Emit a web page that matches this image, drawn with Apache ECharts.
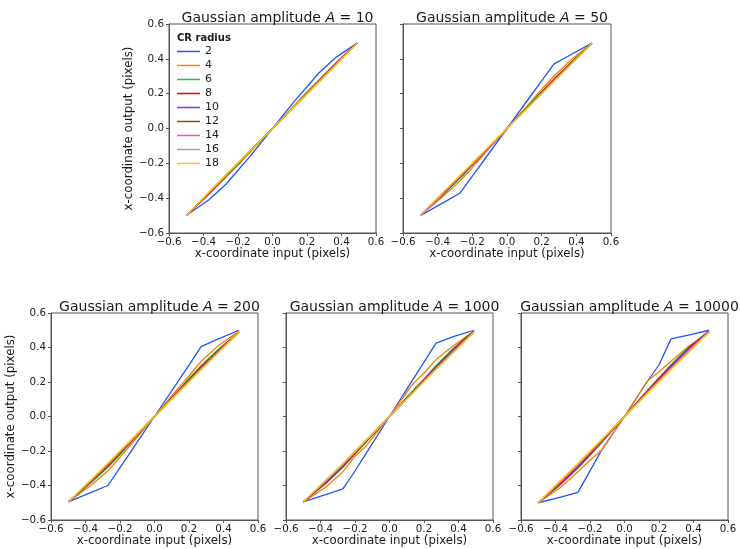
<!DOCTYPE html>
<html>
<head>
<meta charset="utf-8">
<script src="https://cdn.jsdelivr.net/npm/echarts@6/dist/echarts.min.js"></script>
<style>
  html, body { margin: 0; padding: 0; background: #fff; }
  #chart { width: 740px; height: 549px; }
</style>
</head>
<body>
<div id="chart"></div>
<script>
// x-coordinate input (pixels), shared by every curve
var xGrid = [-0.5, -0.37, -0.27, -0.2, -0.13, 0, 0.13, 0.2, 0.27, 0.37, 0.49];

var radii = [2, 4, 6, 8, 10, 12, 14, 16, 18];
var amplitudes = [10, 50, 200, 1000, 10000];

// x-coordinate output, one row per CR radius
var outA10 = [
  [-0.5, -0.41, -0.32, -0.24, -0.16, 0, 0.16, 0.24, 0.32, 0.41, 0.49],
  [-0.5, -0.38, -0.28, -0.21, -0.135, 0, 0.135, 0.21, 0.28, 0.38, 0.49],
  [-0.5, -0.375, -0.275, -0.205, -0.132, 0, 0.132, 0.205, 0.275, 0.375, 0.49],
  [-0.5, -0.373, -0.273, -0.203, -0.131, 0, 0.131, 0.203, 0.273, 0.373, 0.49],
  [-0.5, -0.372, -0.272, -0.202, -0.131, 0, 0.131, 0.202, 0.272, 0.372, 0.49],
  [-0.5, -0.371, -0.271, -0.201, -0.13, 0, 0.13, 0.201, 0.271, 0.371, 0.49],
  [-0.5, -0.37, -0.27, -0.2, -0.13, 0, 0.13, 0.2, 0.27, 0.37, 0.49],
  [-0.5, -0.368, -0.268, -0.199, -0.129, 0, 0.129, 0.199, 0.268, 0.368, 0.49],
  [-0.5, -0.366, -0.266, -0.197, -0.128, 0, 0.128, 0.197, 0.266, 0.366, 0.49]
];
var outA50 = [
  [-0.5, -0.427, -0.37, -0.274, -0.178, 0, 0.178, 0.274, 0.37, 0.425, 0.49],
  [-0.5, -0.39, -0.3, -0.225, -0.145, 0, 0.145, 0.225, 0.3, 0.395, 0.49],
  [-0.5, -0.38, -0.285, -0.212, -0.138, 0, 0.138, 0.212, 0.285, 0.38, 0.49],
  [-0.5, -0.377, -0.28, -0.208, -0.135, 0, 0.135, 0.208, 0.28, 0.377, 0.49],
  [-0.5, -0.375, -0.277, -0.206, -0.134, 0, 0.134, 0.206, 0.277, 0.375, 0.49],
  [-0.5, -0.373, -0.275, -0.204, -0.133, 0, 0.133, 0.204, 0.275, 0.373, 0.49],
  [-0.5, -0.372, -0.273, -0.202, -0.132, 0, 0.132, 0.202, 0.273, 0.372, 0.49],
  [-0.5, -0.37, -0.271, -0.201, -0.131, 0, 0.131, 0.201, 0.271, 0.37, 0.49],
  [-0.5, -0.368, -0.268, -0.199, -0.129, 0, 0.129, 0.199, 0.268, 0.368, 0.49]
];
var outA200 = [
  [-0.495, -0.441, -0.4, -0.296, -0.193, 0, 0.194, 0.298, 0.405, 0.45, 0.5],
  [-0.495, -0.4, -0.315, -0.235, -0.155, 0, 0.155, 0.235, 0.32, 0.41, 0.495],
  [-0.495, -0.385, -0.295, -0.22, -0.143, 0, 0.143, 0.22, 0.295, 0.39, 0.49],
  [-0.495, -0.38, -0.288, -0.214, -0.139, 0, 0.139, 0.214, 0.288, 0.383, 0.49],
  [-0.495, -0.377, -0.284, -0.21, -0.137, 0, 0.137, 0.21, 0.284, 0.379, 0.49],
  [-0.495, -0.375, -0.28, -0.207, -0.135, 0, 0.135, 0.207, 0.28, 0.376, 0.49],
  [-0.495, -0.373, -0.277, -0.205, -0.133, 0, 0.133, 0.205, 0.277, 0.374, 0.49],
  [-0.495, -0.371, -0.274, -0.203, -0.132, 0, 0.132, 0.203, 0.274, 0.372, 0.49],
  [-0.495, -0.369, -0.271, -0.2, -0.13, 0, 0.13, 0.2, 0.271, 0.37, 0.49]
];
var outA1000 = [
  [-0.495, -0.453, -0.42, -0.316, -0.205, 0, 0.205, 0.315, 0.425, 0.463, 0.5],
  [-0.495, -0.41, -0.32, -0.23, -0.165, 0, 0.183, 0.252, 0.33, 0.41, 0.495],
  [-0.495, -0.39, -0.295, -0.218, -0.142, 0, 0.142, 0.218, 0.295, 0.395, 0.495],
  [-0.495, -0.385, -0.29, -0.214, -0.14, 0, 0.14, 0.214, 0.29, 0.39, 0.495],
  [-0.495, -0.381, -0.286, -0.211, -0.138, 0, 0.138, 0.211, 0.286, 0.385, 0.49],
  [-0.495, -0.378, -0.282, -0.208, -0.136, 0, 0.136, 0.208, 0.282, 0.381, 0.49],
  [-0.495, -0.375, -0.279, -0.206, -0.134, 0, 0.134, 0.206, 0.279, 0.377, 0.49],
  [-0.495, -0.372, -0.276, -0.204, -0.132, 0, 0.132, 0.204, 0.276, 0.374, 0.49],
  [-0.495, -0.369, -0.272, -0.201, -0.13, 0, 0.13, 0.201, 0.272, 0.37, 0.49]
];
var outA10000 = [
  [-0.5, -0.467, -0.44, -0.315, -0.19, 0, 0.2, 0.3, 0.45, 0.472, 0.5],
  [-0.5, -0.41, -0.32, -0.254, -0.193, 0, 0.203, 0.26, 0.32, 0.406, 0.49],
  [-0.5, -0.395, -0.3, -0.225, -0.148, 0, 0.148, 0.225, 0.3, 0.4, 0.495],
  [-0.5, -0.39, -0.295, -0.22, -0.145, 0, 0.145, 0.22, 0.295, 0.395, 0.495],
  [-0.5, -0.385, -0.29, -0.215, -0.142, 0, 0.142, 0.215, 0.29, 0.39, 0.495],
  [-0.5, -0.381, -0.286, -0.211, -0.139, 0, 0.139, 0.211, 0.286, 0.386, 0.49],
  [-0.5, -0.378, -0.282, -0.208, -0.136, 0, 0.136, 0.208, 0.282, 0.381, 0.49],
  [-0.5, -0.374, -0.277, -0.205, -0.133, 0, 0.133, 0.205, 0.277, 0.376, 0.49],
  [-0.5, -0.37, -0.272, -0.201, -0.13, 0, 0.13, 0.201, 0.272, 0.37, 0.49]
];
var outputs = [outA10, outA50, outA200, outA1000, outA10000];

// seaborn "bright" palette (blue a touch lighter, as it shows in the picture)
var colors = ['#1f55ff', '#ff7c00', '#1ac938', '#e8000b', '#8b2be2',
              '#9f4800', '#f14cc1', '#a3a3a3', '#ffc400'];

// panel boxes in px: [left, top, width, height]
var boxes = [
  [169, 24, 207, 209],
  [403, 24, 208, 209],
  [51, 313, 207, 207],
  [286, 313, 207, 207],
  [521, 313, 207, 207]
];

var font = 'DejaVu Sans';
var ink = '#1a1a1a';
var frame = '#555';

function fmt (v) {
  var s = Math.abs(v).toFixed(1);
  return (v < -1e-9 ? '\u2212' : '') + s;
}

var grids = [], xAxes = [], yAxes = [], titles = [], series = [];

boxes.forEach(function (b, p) {
  grids.push({
    left: b[0], top: b[1], width: b[2], height: b[3],
    show: true, borderColor: frame, borderWidth: 1, backgroundColor: 'transparent'
  });
  titles.push({
    text: 'Gaussian amplitude {i|A} = ' + amplitudes[p],
    left: b[0] + b[2] / 2,
    top: b[1] - 18,
    textAlign: 'center',
    textStyle: {
      fontFamily: font, fontSize: 14, fontWeight: 'normal', color: ink,
      rich: { i: { fontFamily: font, fontSize: 14, fontStyle: 'italic', color: ink } }
    }
  });
  xAxes.push({
    gridIndex: p, type: 'value', min: -0.6, max: 0.6, interval: 0.2,
    name: 'x-coordinate input (pixels)', nameLocation: 'middle', nameGap: 15,
    nameTextStyle: { fontFamily: font, fontSize: 11.8, color: ink },
    axisLine: { show: true, onZero: false, lineStyle: { color: frame } },
    axisTick: { show: true, length: 3, lineStyle: { color: frame } },
    axisLabel: { fontFamily: font, fontSize: 10.3, color: ink, margin: 4, formatter: fmt },
    splitLine: { show: false }
  });
  var leftmost = (p === 0 || p === 2);
  yAxes.push({
    gridIndex: p, type: 'value', min: -0.6, max: 0.6, interval: 0.2,
    name: leftmost ? 'x-coordinate output (pixels)' : '',
    nameLocation: 'middle', nameGap: 30,
    nameTextStyle: { fontFamily: font, fontSize: 11.8, color: ink },
    axisLine: { show: true, onZero: false, lineStyle: { color: frame } },
    axisTick: { show: true, length: 3, lineStyle: { color: frame } },
    axisLabel: { show: leftmost, fontFamily: font, fontSize: 10.3, color: ink, margin: 5, formatter: fmt },
    splitLine: { show: false }
  });
  radii.forEach(function (r, k) {
    var ys = outputs[p][k];
    series.push({
      type: 'line',
      name: String(r),
      xAxisIndex: p, yAxisIndex: p,
      data: xGrid.map(function (x, i) { return [x, ys[i]]; }),
      symbol: 'none', showSymbol: false,
      lineStyle: { width: 1.3, color: colors[k] },
      itemStyle: { color: colors[k] },
      emphasis: { disabled: true }
    });
  });
});

var chart = echarts.init(document.getElementById('chart'));
chart.setOption({
  animation: false,
  backgroundColor: '#fff',
  title: titles,
  grid: grids,
  xAxis: xAxes,
  yAxis: yAxes,
  legend: {
    data: radii.map(String),
    orient: 'vertical',
    left: 177, top: 46, padding: 0,
    icon: 'rect',
    itemWidth: 23, itemHeight: 1.5, itemGap: 3,
    textStyle: { fontFamily: font, fontSize: 11, color: ink }
  },
  graphic: [{
    type: 'text', left: 177, top: 33,
    style: { text: 'CR radius', font: 'bold 10px "DejaVu Sans"', fill: ink }
  }],
  series: series
});
</script>
</body>
</html>
